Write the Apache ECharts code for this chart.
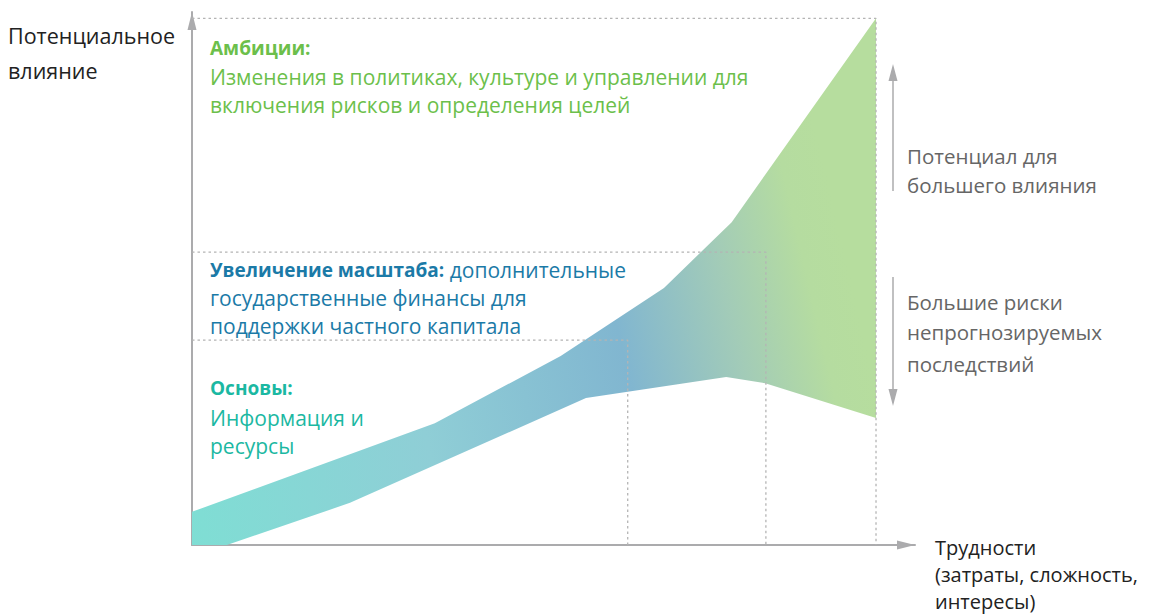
<!DOCTYPE html>
<html>
<head>
<meta charset="utf-8">
<script src="https://cdn.jsdelivr.net/npm/echarts@6/dist/echarts.min.js"></script>
<style>
html,body{margin:0;padding:0;background:#fff;}
#chart{width:1171px;height:616px;}
</style>
</head>
<body>
<div id="chart"></div>
<script>
// Band (upper and lower edges), in axis units (x: 0..100 difficulty, y: 0..100 impact)
var upperX = [0, 35.5, 53.9, 69.0, 78.9, 100];
var upperY = [6.3, 23.1, 35.9, 48.8, 61.3, 100];
var lowerX = [0, 5.1, 23.1, 57.6, 78.1, 83.8, 100];
var lowerY = [0, 0, 8.0, 27.9, 31.9, 30.7, 24.1];
// Stage boundaries (dotted guides): [x, y]
var stageNames = ['Основы', 'Увеличение масштаба', 'Амбиции'];
var stageX = [63.7, 83.9, 100];
var stageY = [38.9, 55.6, 100];

var chart = echarts.init(document.getElementById('chart'), null, {renderer: 'svg'});

var FONT = '"Open Sans", "Noto Sans", sans-serif';
var GREEN = '#6cbf4b', BLUE = '#1b7aa7', TEAL = '#1bb8a2', GRAY = '#666666', DARK = '#222222', AX = '#ababad';

function txt(x, y, text, color, size, weight) {
  return {type: 'text', x: x, y: y, style: {text: text, fill: color, verticalAlign: 'middle', align: 'left',
    font: (weight || 'normal') + ' ' + size + 'px ' + FONT}};
}

var guideSeries = stageX.map(function (sx, i) {
  return {
    type: 'line', name: stageNames[i], z: 5, silent: true, symbol: 'none',
    data: [[0, stageY[i]], [sx, stageY[i]], [sx, 0]],
    lineStyle: {color: '#b4b4b4', width: 1.3, type: [2.5, 3]}
  };
});

var option = {
  animation: false,
  grid: {left: 192, right: 256, top: 12, bottom: 71},
  xAxis: {
    type: 'value', min: 0, max: 105.7,
    axisLine: {show: true, lineStyle: {color: AX, width: 2}, symbol: ['none', 'triangle'], symbolSize: [9, 18], symbolOffset: [0, -9]},
    axisTick: {show: false}, axisLabel: {show: false}, splitLine: {show: false}
  },
  yAxis: {
    type: 'value', min: 0, max: 101.2,
    axisLine: {show: true, lineStyle: {color: AX, width: 2}, symbol: ['none', 'triangle'], symbolSize: [9, 18], symbolOffset: [0, -9]},
    axisTick: {show: false}, axisLabel: {show: false}, splitLine: {show: false}
  },
  series: [{
    type: 'custom', z: 2, silent: true, clip: true,
    data: [[0, 0]],
    renderItem: function (params, api) {
      var pts = [];
      for (var i = 0; i < upperX.length; i++) pts.push(api.coord([upperX[i], upperY[i]]));
      for (var j = lowerX.length - 1; j >= 0; j--) pts.push(api.coord([lowerX[j], lowerY[j]]));
      var a = api.coord([0, 0]), b = api.coord([100, 30]);
      var grad = new echarts.graphic.LinearGradient(a[0], a[1], b[0], b[1], [
        {offset: 0, color: '#7fded4'},
        {offset: 0.36, color: '#8fced6'},
        {offset: 0.66, color: '#81b6d0'},
        {offset: 0.82, color: '#a2cbb8'},
        {offset: 0.94, color: '#b5dca0'},
        {offset: 1, color: '#b6dd9e'}
      ], true);
      return {type: 'polygon', shape: {points: pts}, style: {fill: grad}};
    }
  }].concat(guideSeries),
  graphic: [
    txt(8, 35, 'Потенциальное', DARK, 21.5),
    txt(8, 70, 'влияние', DARK, 21.5),
    txt(210, 48, 'Амбиции:', GREEN, 19, 'bold'),
    txt(210, 77, 'Изменения в политиках, культуре и управлении для', GREEN, 21),
    txt(210, 105, 'включения рисков и определения целей', GREEN, 21),
    {type: 'text', x: 210, y: 270, style: {
      text: '{b|Увеличение масштаба:} дополнительные', fill: BLUE, verticalAlign: 'middle', font: 'normal 21px ' + FONT,
      rich: {b: {fontWeight: 'bold', fill: BLUE, fontSize: 19, fontFamily: FONT}}
    }},
    txt(210, 298, 'государственные финансы для', BLUE, 21),
    txt(210, 326, 'поддержки частного капитала', BLUE, 21),
    txt(210, 388, 'Основы:', TEAL, 19, 'bold'),
    txt(210, 418, 'Информация и', TEAL, 21),
    txt(210, 446, 'ресурсы', TEAL, 21),
    txt(907, 156, 'Потенциал для', GRAY, 20.5),
    txt(907, 185, 'большего влияния', GRAY, 20.5),
    txt(907, 302, 'Большие риски', GRAY, 20.5),
    txt(907, 332, 'непрогнозируемых', GRAY, 20.5),
    txt(907, 364, 'последствий', GRAY, 20.5),
    txt(935, 547, 'Трудности', DARK, 20),
    txt(935, 574, '(затраты, сложность,', DARK, 20),
    txt(935, 601, 'интересы)', DARK, 20),
    {type: 'line', shape: {x1: 893, y1: 80, x2: 893, y2: 191}, style: {stroke: AX, lineWidth: 1.5}},
    {type: 'polygon', shape: {points: [[893, 64], [888.5, 81], [897.5, 81]]}, style: {fill: AX}},
    {type: 'line', shape: {x1: 893, y1: 277, x2: 893, y2: 390}, style: {stroke: AX, lineWidth: 1.5}},
    {type: 'polygon', shape: {points: [[893, 406], [888.5, 389], [897.5, 389]]}, style: {fill: AX}}
  ]
};
chart.setOption(option);
</script>
</body>
</html>
